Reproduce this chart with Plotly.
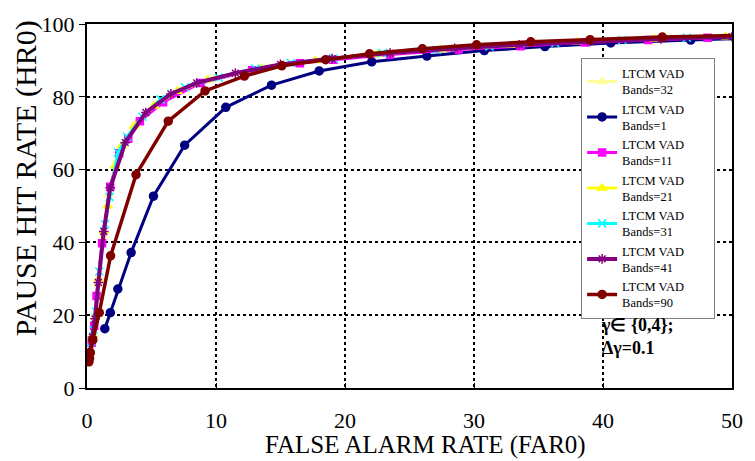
import plotly.graph_objects as go

# ---- data ----
x_b32 = [0.22, 0.4, 0.6, 0.85, 1.25, 1.7, 2.3, 2.9, 3.8, 5.4, 7.3, 9.8, 14, 18.5, 23.5, 28.3, 33.8, 39.5, 45, 50.5]
y_b32 = [9.5, 13.5, 18.5, 28.5, 41.5, 53, 62.5, 67.5, 72.3, 78, 82, 85, 88, 90.2, 91.9, 93.2, 94.3, 95.3, 96, 96.6]

x_b1 = [1.38, 1.81, 2.39, 3.42, 5.15, 7.57, 10.76, 14.3, 18.0, 22.07, 26.35, 30.8, 35.5, 40.6, 46.8, 53.0]
y_b1 = [16.3, 20.7, 27.2, 37.2, 52.7, 66.7, 77.1, 83.2, 87.1, 89.6, 91.2, 92.7, 93.8, 94.8, 95.6, 96.3]

x_b11 = [0.2, 0.36, 0.56, 0.74, 1.17, 1.8, 2.5, 3.2, 4.1, 5.9, 8.8, 12.8, 16.5, 19.1, 23.5, 28.8, 33.6, 38.6, 43.5, 48.1, 53]
y_b11 = [9, 12.4, 17, 25.3, 39.8, 55.3, 64.5, 68.5, 73.3, 78.5, 83.8, 87.3, 89.2, 90.2, 91.6, 93.0, 93.9, 94.9, 95.6, 96.2, 96.7]

x_b21 = [0.25, 0.45, 0.65, 0.9, 1.3, 1.6, 2.2, 2.7, 3.65, 5.2, 7.0, 9.35, 13.5, 17.7, 22.5, 27.5, 33, 38, 44, 49.5, 54]
y_b21 = [10, 14.5, 19.5, 30, 43, 50, 61, 66.5, 71.9, 77.5, 81.5, 84.6, 87.8, 90, 91.7, 93, 94.2, 95.1, 95.9, 96.5, 96.9]

x_b31 = [0.3, 0.5, 0.7, 0.95, 1.4, 1.75, 2.4, 3.1, 4.3, 5.7, 7.6, 10.2, 13.05, 15.8, 19.1, 22.9, 27.1, 31.2, 36.3, 41.5, 46.5, 52]
y_b31 = [11, 16, 21, 32, 45, 52.5, 64.7, 69, 74.5, 79.3, 82.6, 85.3, 87.8, 89.3, 90.5, 92.0, 92.9, 93.8, 94.7, 95.6, 96.2, 96.7]

x_b41 = [0.22, 0.42, 0.62, 0.88, 1.3, 1.8, 2.96, 4.56, 6.5, 8.5, 11.5, 15, 19, 23.5, 28.5, 33.5, 39, 44.5, 50, 55]
y_b41 = [9.3, 14, 19, 29, 43, 55, 67.4, 75.7, 80.8, 83.8, 86.5, 88.9, 90.5, 92, 93.3, 94.3, 95.2, 95.9, 96.5, 97]

x_b90 = [0.15, 0.2, 0.25, 0.45, 0.95, 1.83, 3.8, 6.3, 9.15, 12.2, 15.1, 18.5, 21.9, 26.0, 30.2, 34.4, 39.0, 44.6, 50.5]
y_b90 = [7.2, 8.2, 9.8, 13.2, 20.7, 36.3, 58.6, 73.3, 81.6, 85.7, 88.5, 90.2, 91.8, 93.2, 94.3, 95.1, 95.7, 96.4, 96.9]

x_ticks = [0, 10, 20, 30, 40, 50]
y_ticks = [0, 20, 40, 60, 80, 100]

FONT = "Liberation Serif"
PAD = "\u2003\u2003\u200b"

series = [
    ("LTCM VAD" + PAD + "<br>Bands=32", x_b32, y_b32, "#FFFF99", "triangle-up", 8, 3),
    ("LTCM VAD" + PAD + "<br>Bands=1", x_b1, y_b1, "#000080", "circle", 8, 3),
    ("LTCM VAD" + PAD + "<br>Bands=11", x_b11, y_b11, "#FF00FF", "square", 7, 3),
    ("LTCM VAD" + PAD + "<br>Bands=21", x_b21, y_b21, "#FFFF00", "triangle-up", 8, 3),
    ("LTCM VAD" + PAD + "<br>Bands=31", x_b31, y_b31, "#00FFFF", "x-thin-open", 8, 3),
    ("LTCM VAD" + PAD + "<br>Bands=41", x_b41, y_b41, "#800080", "asterisk-open", 8, 4),
    ("LTCM VAD" + PAD + "<br>Bands=90", x_b90, y_b90, "#800000", "circle", 8, 3.5),
]

L, R, T, B = 87, 14, 20, 73
W, H = 755, 461
PW, PH = W - L - R, H - T - B

fig = go.Figure()
for name, xs, ys, col, sym, ms, lw in series:
    fig.add_trace(go.Scatter(
        x=xs, y=ys, name=name, mode="lines+markers",
        line=dict(color=col, width=lw),
        marker=dict(color=col, symbol=sym, size=ms, line=dict(color=col, width=1.5)),
    ))

fig.update_layout(
    width=W, height=H,
    margin=dict(l=L, r=R, t=T, b=B),
    paper_bgcolor="white", plot_bgcolor="white",
    font=dict(family=FONT, color="black"),
    showlegend=True,
    legend=dict(
        x=(588 - L) / PW, y=(H - B - 54) / PH, xanchor="left", yanchor="top",
        bgcolor="white", bordercolor="#808080", borderwidth=1,
        font=dict(family=FONT, size=12.5, color="black"),
        tracegroupgap=0, itemwidth=30,
    ),
    xaxis=dict(
        range=[0, 50], tickvals=x_ticks, ticks="inside", ticklen=5, tickcolor="black",
        showgrid=True, gridcolor="black", griddash="dot", gridwidth=2,
        showline=True, linecolor="black", linewidth=2, mirror=True,
        zeroline=False, tickfont=dict(family=FONT, size=22), ticklabelstandoff=12,
        ticklabeloverflow="allow",
    ),
    yaxis=dict(
        range=[0, 100], tickvals=y_ticks, ticks="outside", ticklen=6, tickcolor="black",
        showgrid=True, gridcolor="black", griddash="dot", gridwidth=2,
        showline=True, linecolor="black", linewidth=2, mirror=True,
        zeroline=False, tickfont=dict(family=FONT, size=22),
    ),
)

# axis titles as annotations for exact placement
fig.add_annotation(
    xref="paper", yref="paper", x=(430 - L) / PW, y=-(446 - (H - B)) / PH,
    xanchor="center", yanchor="middle", showarrow=False,
    text="FALSE ALARM RATE (FAR0)", font=dict(family=FONT, size=25, color="black"),
)
fig.add_annotation(
    xref="paper", yref="paper", x=-(L - 25) / PW, y=((H - B) - 176) / PH,
    xanchor="center", yanchor="middle", showarrow=False, textangle=-90,
    text="PAUSE HIT RATE (HR0)", font=dict(family=FONT, size=30, color="black"),
)
fig.add_annotation(
    xref="paper", yref="paper", x=(606 - L) / PW, y=((H - B) - 312) / PH,
    xanchor="left", yanchor="top", showarrow=False, align="left",
    text="<b>γ∈ {0,4};<br>Δγ=0.1</b>", font=dict(family=FONT, size=18, color="black"),
)

fig.write_html("out.html")
